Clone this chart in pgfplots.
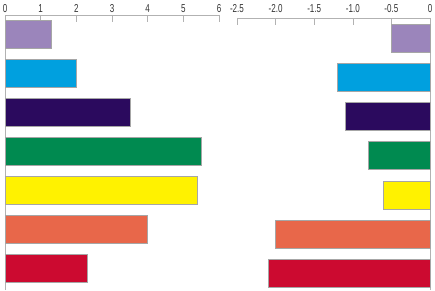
\documentclass[border=0pt]{standalone}
\usepackage{pgfplots}
\pgfplotsset{compat=1.18}
\usepackage{fontspec}
\setmainfont{Liberation Sans}
\newfontfamily\tickfont[FakeStretch=0.7]{Liberation Sans}
\definecolor{c1}{HTML}{9B85BB}
\definecolor{c2}{HTML}{00A0DF}
\definecolor{c3}{HTML}{2B0A5E}
\definecolor{c4}{HTML}{008A50}
\definecolor{c5}{HTML}{FFF200}
\definecolor{c6}{HTML}{E8674A}
\definecolor{c7}{HTML}{CC0A30}
\begin{document}
\begin{tikzpicture}[x=1pt,y=1pt]
\pgfplotsset{
  common/.style={
    scale only axis,
    xbar, bar shift=0pt, bar width=28pt,
    axis x line*=top,
    axis line style={draw=black!30, -},
    ytick=\empty,
    tick align=inside,
    major tick length=7pt,
    tick style={draw=black!30, line width=0.6pt},
    xticklabel style={font=\tickfont\fontsize{11.5}{11.5}\selectfont, text=black!80},
    /pgf/number format/assume math mode=true,
    every axis plot/.append style={draw=black!35, line width=0.4pt},
    clip=false,
  }
}
\begin{axis}[common,
  at={(5pt,0pt)}, anchor=south west,
  width=214pt, height=275pt,
  xmin=0, xmax=6, ymin=0.436, ymax=7.487,
  axis y line*=left,
  xtick={0,1,2,3,4,5,6},
  xticklabel style={yshift=-1pt},
]
\addplot[fill=c1] coordinates {(1.3,7)};
\addplot[fill=c2] coordinates {(2.0,6)};
\addplot[fill=c3] coordinates {(3.5,5)};
\addplot[fill=c4] coordinates {(5.5,4)};
\addplot[fill=c5] coordinates {(5.4,3)};
\addplot[fill=c6] coordinates {(4.0,2)};
\addplot[fill=c7] coordinates {(2.3,1)};
\end{axis}
\begin{axis}[common,
  at={(237pt,0pt)}, anchor=south west,
  width=193pt, height=272pt,
  xmin=-2.5, xmax=0, ymin=0.57, ymax=7.51,
  axis y line*=right,
  xtick={-2.5,-2.0,-1.5,-1.0,-0.5,0},
  xticklabels={-2.5,-2.0,-1.5,-1.0,-0.5,0},
  xticklabel style={yshift=2pt},
]
\addplot[fill=c1] coordinates {(-0.5,7)};
\addplot[fill=c2] coordinates {(-1.2,6)};
\addplot[fill=c3] coordinates {(-1.1,5)};
\addplot[fill=c4] coordinates {(-0.8,4)};
\addplot[fill=c5] coordinates {(-0.6,3)};
\addplot[fill=c6] coordinates {(-2.0,2)};
\addplot[fill=c7] coordinates {(-2.1,1)};
\end{axis}
\pgfresetboundingbox
\path[use as bounding box] (0,0) rectangle (435pt,290pt);
\end{tikzpicture}
\end{document}
